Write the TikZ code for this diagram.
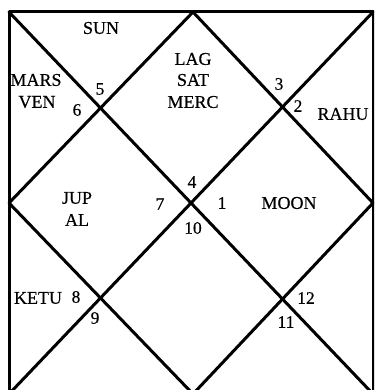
\documentclass[tikz,border=0pt]{standalone}
\usepackage{fontspec}
\setmainfont{Liberation Serif}[FakeBold=0.4]
\begin{document}
\begin{tikzpicture}[x=1pt, y=-1pt, every node/.style={font=\fontsize{18}{18}\selectfont, inner sep=0pt},
  rline/.style={line width=3pt, line cap=round, line join=round},
  hnum/.style={font=\fontsize{17.5}{17.5}\selectfont}]
  \useasboundingbox (0,0) rectangle (374,390);
  \clip (0,0) rectangle (374,390);
  % outer square and mid points
  \coordinate (tl) at (9,12);
  \coordinate (tr) at (373,12);
  \coordinate (br) at (373,394);
  \coordinate (bl) at (9,394);
  \coordinate (t) at (193,12);
  \coordinate (r) at (373,203);
  \coordinate (b) at (193,394);
  \coordinate (l) at (9,203);
  \draw[rline] (tl)--(tr)--(br)--(bl)--cycle;
  \draw[rline] (tl)--(br);
  \draw[rline] (tr)--(bl);
  \draw[rline] (t)--(r)--(b)--(l)--cycle;
  % planets
  \node (sun) at (101,28) {SUN};
  \node (lag) at (193,59) {LAG};
  \node (sat) at (193,80) {SAT};
  \node (merc) at (193,102) {MERC};
  \node (mars) at (36,80) {MARS};
  \node (ven) at (37,102) {VEN};
  \node (rahu) at (343,114) {RAHU};
  \node (jup) at (77,198) {JUP};
  \node (al) at (77,220) {AL};
  \node (moon) at (289,203) {MOON};
  \node (ketu) at (38,298) {KETU};
  % house numbers
  \node[hnum] (h5) at (100,89) {5};
  \node[hnum] (h6) at (77,110) {6};
  \node[hnum] (h3) at (279,84) {3};
  \node[hnum] (h2) at (298,106) {2};
  \node[hnum] (h4) at (192,182) {4};
  \node[hnum] (h7) at (160,204) {7};
  \node[hnum] (h1) at (222,203) {1};
  \node[hnum] (h10) at (193,228) {10};
  \node[hnum] (h8) at (76,297) {8};
  \node[hnum] (h9) at (95,318) {9};
  \node[hnum] (h12) at (306,298) {12};
  \node[hnum] (h11) at (286,322) {11};
\end{tikzpicture}
\end{document}
